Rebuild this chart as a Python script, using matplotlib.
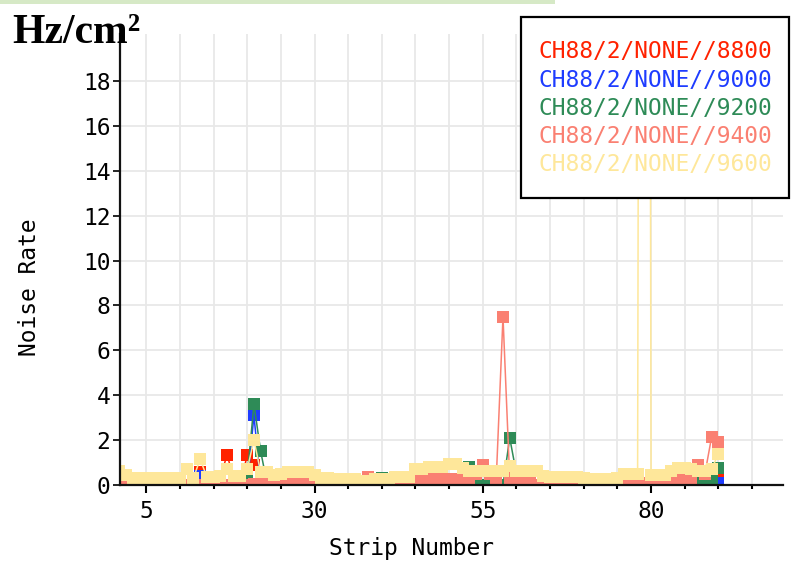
import matplotlib
matplotlib.use('Agg')
import matplotlib.pyplot as plt
from matplotlib.patches import Rectangle
from matplotlib.ticker import MultipleLocator, FixedLocator

plt.rcParams['font.family'] = ['DejaVu Sans Mono']

# データ（ストリップ番号 1〜90）
strips = list(range(1, 91))

rate_8800 = [0, 0, 0, 0, 0, 0, 0, 0, 0, 0,
             0, 0, 0.6, 0, 0, 0.3, 1.35, 0.3, 0, 1.35,
             0.9, 0.2, 0, 0, 0, 0, 0, 0, 0, 0,
             0, 0, 0, 0, 0, 0, 0, 0, 0, 0,
             0, 0, 0, 0, 0, 0, 0, 0, 0, 0,
             0, 0, 0, 0, 0, 0, 0, 0, 0, 0,
             0, 0, 0, 0, 0, 0, 0, 0, 0, 0,
             0, 0, 0, 0, 0, 0, 0, 0, 0, 0,
             0, 0, 0, 0, 0, 0, 0, 0.1, 0.2, 0.35]

rate_9000 = [0, 0, 0, 0, 0, 0, 0, 0, 0, 0,
             0, 0, 0.4, 0, 0, 0, 0, 0, 0, 0,
             3.1, 0, 0, 0, 0, 0, 0, 0, 0, 0,
             0, 0, 0, 0, 0, 0, 0, 0, 0, 0,
             0, 0, 0, 0, 0, 0, 0, 0, 0, 0,
             0, 0, 0, 0, 0, 0, 0, 0, 0, 0,
             0, 0, 0, 0, 0, 0, 0, 0, 0, 0,
             0, 0, 0, 0, 0, 0, 0, 0, 0, 0,
             0, 0, 0, 0, 0, 0, 0, 0, 0, 0.1]

rate_9200 = [0, 0, 0, 0, 0, 0, 0, 0, 0, 0,
             0, 0, 0, 0, 0, 0, 0, 0, 0, 0.4,
             3.6, 1.5, 0, 0, 0, 0, 0, 0, 0, 0,
             0, 0, 0, 0, 0, 0, 0, 0, 0, 0.3,
             0, 0, 0, 0, 0, 0, 0, 0, 0, 0,
             0, 0, 0.8, 0, 0, 0, 0.4, 0, 2.1, 0.5,
             0, 0, 0, 0, 0, 0, 0, 0, 0, 0,
             0, 0, 0, 0, 0, 0, 0, 0, 0, 0,
             0, 0.1, 0, 0.1, 0, 0.2, 0.2, 0.3, 0.3, 0.75]

rate_9400 = [0, 0.05, 0.05, 0, 0, 0, 0, 0, 0, 0,
             0, 0, 0, 0, 0, 0, 0, 0, 0, 0,
             0.05, 0.1, 0.1, 0.15, 0.2, 0.25, 0.25, 0.27, 0.27, 0.1,
             0, 0, 0, 0, 0, 0, 0, 0.35, 0, 0,
             0, 0, 0, 0, 0.25, 0.27, 0.27, 0.27, 0.27, 0.27,
             0.27, 0.25, 0.1, 0.5, 0.9, 0.5, 0.27, 7.5, 0.27, 0.25,
             0.1, 0.2, 0, 0, 0, 0.1, 0.1, 0.1, 0, 0,
             0, 0, 0, 0, 0, 0.1, 0.1, 0.15, 0.1, 0,
             0, 0.2, 0.25, 0.27, 0.25, 0.25, 0.9, 0.5, 2.15, 1.9]

rate_9600 = [0.62, 0.45, 0.3, 0.3, 0.3, 0.3, 0.3, 0.3, 0.3, 0.3,
             0.7, 0.3, 1.15, 0.37, 0.37, 0.4, 0.7, 0.4, 0.4, 0.7,
             2.0, 0.58, 0.58, 0.45, 0.5, 0.58, 0.58, 0.58, 0.58, 0.45,
             0.3, 0.3, 0.27, 0.27, 0.27, 0.27, 0.2, 0.18, 0.27, 0.27,
             0.27, 0.37, 0.37, 0.37, 0.7, 0.7, 0.8, 0.8, 0.8, 0.94,
             0.94, 0.75, 0.63, 0.63, 0.63, 0.63, 0.63, 0.63, 0.85, 0.63,
             0.63, 0.63, 0.63, 0.4, 0.37, 0.37, 0.37, 0.37, 0.37, 0.3,
             0.27, 0.27, 0.27, 0.27, 0.3, 0.5, 0.5, 0.5, 150, 0.45,
             0.45, 0.45, 0.63, 0.76, 0.76, 0.7, 0.63, 0.63, 0.7, 1.4]

series_names = ['CH88/2/NONE//8800', 'CH88/2/NONE//9000', 'CH88/2/NONE//9200',
                'CH88/2/NONE//9400', 'CH88/2/NONE//9600']
series_data = [rate_8800, rate_9000, rate_9200, rate_9400, rate_9600]
colors = ['#ff2200', '#1e3cff', '#2e8b57', '#fa8072', '#fee79a']

W, H = 791, 563
fig = plt.figure(figsize=(W / 100, H / 100), dpi=100)
ax = fig.add_axes([120 / W, 1 - 485 / H, 663 / W, 451 / H])

for name, vals, c in zip(series_names, series_data, colors):
    ax.plot(strips, vals, color=c, linewidth=1.1, marker='s', markersize=9,
            markeredgewidth=0, label=name)

ax.set_xlim(1.1, 99.6)
ax.set_ylim(0, 20.1)

# 軸設定
ax.xaxis.set_major_locator(FixedLocator([5, 30, 55, 80]))
ax.xaxis.set_minor_locator(MultipleLocator(5))
ax.set_yticks(range(0, 20, 2))
ax.tick_params(axis='x', which='major', length=6, width=1.5, pad=5, labelsize=16.5)
ax.tick_params(axis='x', which='minor', length=3, width=1.5)
ax.tick_params(axis='y', which='major', length=5, width=1.2, pad=2, labelsize=16.5)

ax.set_axisbelow(True)
ax.grid(True, which='both', axis='x', color='#e8e8e8', linewidth=1.3)
ax.grid(True, which='major', axis='y', color='#e8e8e8', linewidth=1.3)

for side in ['top', 'right']:
    ax.spines[side].set_visible(False)
for side in ['left', 'bottom']:
    ax.spines[side].set_linewidth(1.6)
    ax.spines[side].set_color('#111111')

# ラベル
fig.text(411 / W, 1 - 548 / H, 'Strip Number', ha='center', va='center', fontsize=16.5)
fig.text(30 / W, 1 - 287 / H, 'Noise Rate', ha='center', va='center', rotation=90, fontsize=16.5)
fig.text(12 / W, 1 - 43 / H, 'Hz/cm\u00b2', ha='left', va='baseline', fontsize=30,
         fontweight='bold', family='Liberation Serif')

# 上部の帯
fig.add_artist(Rectangle((0, 1 - 4 / H), 555 / W, 4 / H, transform=fig.transFigure,
                         facecolor='#d6e9c6', edgecolor='none'))

# 凡例ボックス
fig.add_artist(Rectangle((521 / W, 1 - 198 / H), 268 / W, 181 / H, transform=fig.transFigure,
                         facecolor='white', edgecolor='black', linewidth=1.6, zorder=5))
for i, (name, c) in enumerate(zip(series_names, colors)):
    fig.text(538 / W, 1 - (52 + 28.2 * i) / H, name, color=c, ha='left', va='center',
             fontsize=16.5, zorder=6)

fig.savefig('out.png', dpi=100)
